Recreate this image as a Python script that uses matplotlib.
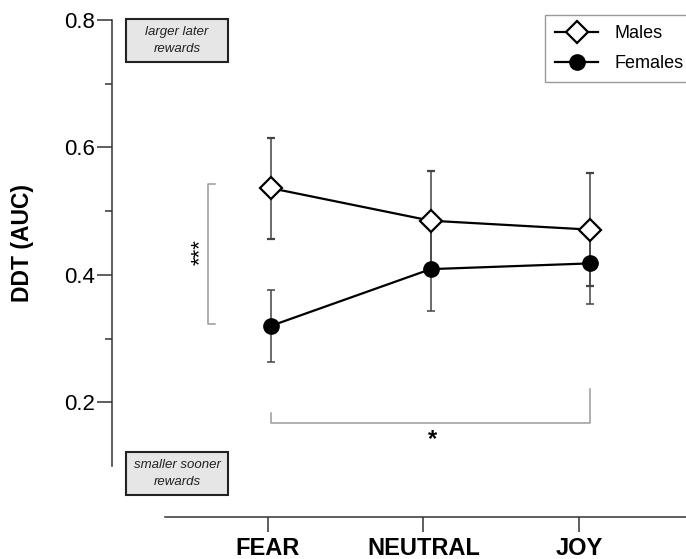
import matplotlib.pyplot as plt
from matplotlib.patches import Rectangle
from matplotlib.lines import Line2D

plt.rcParams['font.family'] = ['Liberation Sans', 'DejaVu Sans']

conditions = ['FEAR', 'NEUTRAL', 'JOY']
males = [0.536, 0.485, 0.471]
males_err = [0.079, 0.078, 0.089]
females = [0.320, 0.409, 0.418]
females_err = [0.056, 0.065, 0.063]

W, H = 686, 559
fig = plt.figure(figsize=(W / 100, H / 100), dpi=100)

# main panel: left spine only, x positions 0..2
ax = fig.add_axes([112 / W, 1 - 466 / H, (W - 112) / W, 446 / H])
ax.set_xlim(-0.997, 2.60)
ax.set_ylim(0.1, 0.8)
for s in ['top', 'right', 'bottom']:
    ax.spines[s].set_visible(False)
ax.spines['left'].set_color('#333333')
ax.spines['left'].set_linewidth(1.1)
ax.set_xticks([])
ax.set_yticks([0.2, 0.4, 0.6, 0.8])
ax.set_yticks([0.3, 0.5, 0.7], minor=True)
ax.set_yticklabels(['0.2', '0.4', '0.6', '0.8'], fontsize=16)
ax.tick_params(axis='y', which='major', length=11, width=1.1, color='#333333', pad=1.5)
ax.tick_params(axis='y', which='minor', length=5, width=1.1, color='#333333')
ax.set_ylabel('DDT (AUC)', fontsize=16.5, fontweight='bold')
ax.yaxis.set_label_coords(-0.136, 0.5)

x = range(len(conditions))
ax.errorbar(x, males, yerr=males_err, color='black', lw=1.6, marker='D', ms=11,
            mfc='white', mec='black', mew=1.6, ecolor='#444444', elinewidth=1.1,
            capsize=3, capthick=1.1, zorder=3)
ax.errorbar(x, females, yerr=females_err, color='black', lw=1.6, marker='o', ms=11,
            mfc='black', mec='black', ecolor='#444444', elinewidth=1.1,
            capsize=3, capthick=1.1, zorder=3)

# significance brackets
gray = '#9a9a9a'
ax.plot([-0.351, -0.395, -0.395, -0.351], [0.543, 0.543, 0.323, 0.323],
        color=gray, lw=1.1, clip_on=False)
ax.text(-0.445, 0.435, '***', rotation=90, ha='center', va='center', fontsize=16)
ax.plot([0, 0, 2, 2], [0.183, 0.167, 0.167, 0.221], color=gray, lw=1.1, clip_on=False)
ax.text(1.01, 0.142, '*', ha='center', va='center', fontsize=17, fontweight='bold')

# direction boxes
for (x0, y0, label) in [(126, 19, 'larger later\nrewards'), (126, 452, 'smaller sooner\nrewards')]:
    fig.patches.append(Rectangle((x0 / W, 1 - (y0 + 43) / H), 102 / W, 43 / H,
                                 transform=fig.transFigure, facecolor='#e6e6e6',
                                 edgecolor='#222222', lw=1.5))
    fig.text((x0 + 51) / W, 1 - (y0 + 21.5) / H, label, ha='center', va='center',
             fontsize=9.5, style='italic', color='#222222', linespacing=1.45)

# category axis drawn below the panel
axx = fig.add_axes([165 / W, 1 - 517 / H, (W - 165) / W, 0.0001])
axx.set_xlim(-0.662, 2.688)
for s in ['top', 'right', 'left']:
    axx.spines[s].set_visible(False)
axx.spines['bottom'].set_color('#333333')
axx.spines['bottom'].set_linewidth(1.1)
axx.set_yticks([])
axx.set_xticks(range(len(conditions)))
axx.set_xticklabels(conditions, fontsize=17, fontweight='bold')
axx.tick_params(axis='x', length=11, width=1.1, color='#333333', pad=3.5)

handles = [
    Line2D([], [], color='black', lw=1.6, marker='D', ms=11, mfc='white', mec='black', mew=1.6),
    Line2D([], [], color='black', lw=1.6, marker='o', ms=11, mfc='black', mec='black'),
]
fig.legend(handles, ['Males', 'Females'], loc='upper left',
           bbox_to_anchor=(545 / W, 1 - 15 / H), borderaxespad=0, fontsize=13,
           frameon=True, fancybox=False, edgecolor='#999999', framealpha=1,
           handlelength=2.4, borderpad=0.55, labelspacing=0.75, handletextpad=0.9)

fig.savefig('out.png', dpi=100)
